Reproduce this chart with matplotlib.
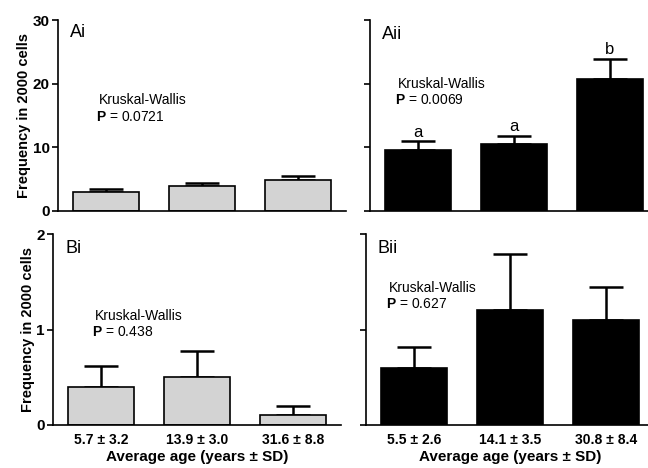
import matplotlib
matplotlib.use("Agg")
import matplotlib.pyplot as plt

plt.rcParams["font.family"] = ["Liberation Sans", "DejaVu Sans"]
plt.rcParams["mathtext.fontset"] = "custom"
plt.rcParams["mathtext.rm"] = "Liberation Sans"
plt.rcParams["mathtext.bf"] = "Liberation Sans:bold"

# ── Data ────────────────────────────────────────────────────────────────────
ages_i = ["5.7 ± 3.2", "13.9 ± 3.0", "31.6 ± 8.8"]
ages_ii = ["5.5 ± 2.6", "14.1 ± 3.5", "30.8 ± 8.4"]

ai_mean = [3.0, 3.9, 4.9]
ai_err = [0.5, 0.5, 0.6]
aii_mean = [9.6, 10.5, 20.7]
aii_err = [1.4, 1.3, 3.2]
aii_letters = ["a", "a", "b"]

bi_mean = [0.40, 0.50, 0.10]
bi_err = [0.22, 0.27, 0.10]
bii_mean = [0.60, 1.20, 1.10]
bii_err = [0.22, 0.59, 0.35]

p_values = {"Ai": "0.0721", "Aii": "0.0069", "Bi": "0.438", "Bii": "0.627"}

GRAY = "#d3d3d3"
W, H = 648, 468


def px_axes(fig, x0, x1, y0, y1):
    return fig.add_axes([x0 / W, 1 - y1 / H, (x1 - x0) / W, (y1 - y0) / H])


def draw_panel(ax, means, errs, color, ylim, yticks, show_ylabels):
    x = range(len(means))
    ax.bar(x, means, width=0.68, color=color, edgecolor="black", linewidth=1.2, zorder=2)
    ax.errorbar(x, means, yerr=[[0] * len(errs), errs], fmt="none", ecolor="black",
                elinewidth=1.8, capsize=12, capthick=1.8, zorder=1)
    ax.set_xlim(-0.5, 2.5)
    ax.set_ylim(*ylim)
    ax.set_yticks(yticks)
    for s in ["top", "right"]:
        ax.spines[s].set_visible(False)
    for s in ["left", "bottom"]:
        ax.spines[s].set_linewidth(1.2)
    ax.tick_params(axis="y", direction="out", length=4, width=1.2, labelsize=11, pad=2)
    ax.tick_params(axis="x", length=0)
    ax.set_xticks(list(x))
    ax.set_xticklabels([])
    if show_ylabels:
        for t in ax.get_yticklabels():
            t.set_fontweight("bold")
        ax.set_ylabel("Frequency in 2000 cells", fontsize=10.5, fontweight="bold", labelpad=1)
    else:
        ax.set_yticklabels([])


def kruskal(ax, x, y1, y2, p):
    ax.text(x, y1, "Kruskal-Wallis", fontsize=10, ha="left", va="center")
    ax.text(x - 0.03, y2, r"$\mathbf{P}$ = " + p, fontsize=10, ha="left", va="center")


fig = plt.figure(figsize=(W / 100, H / 100), dpi=100)

ax_ai = px_axes(fig, 58, 346, 20, 211)
ax_aii = px_axes(fig, 370, 658, 20, 211)
ax_bi = px_axes(fig, 53, 341, 234, 425)
ax_bii = px_axes(fig, 366, 654, 234, 425)

draw_panel(ax_ai, ai_mean, ai_err, GRAY, (0, 30), [0, 10, 20, 30], True)
draw_panel(ax_aii, aii_mean, aii_err, "black", (0, 30), [0, 10, 20, 30], False)
draw_panel(ax_bi, bi_mean, bi_err, GRAY, (0, 2), [0, 1, 2], True)
draw_panel(ax_bii, bii_mean, bii_err, "black", (0, 2), [0, 1, 2], False)

# panel labels
ax_ai.text(-0.38, 28.0, "Ai", fontsize=13, va="center", ha="left")
ax_aii.text(-0.38, 27.8, "Aii", fontsize=13, va="center", ha="left")
ax_bi.text(-0.37, 1.85, "Bi", fontsize=13, va="center", ha="left")
ax_bii.text(-0.38, 1.85, "Bii", fontsize=13, va="center", ha="left")

kruskal(ax_ai, -0.07, 17.4, 14.8, p_values["Ai"])
kruskal(ax_aii, -0.21, 19.9, 17.4, p_values["Aii"])
kruskal(ax_bi, -0.06, 1.14, 0.97, p_values["Bi"])
kruskal(ax_bii, -0.26, 1.43, 1.27, p_values["Bii"])

for i, letter in enumerate(aii_letters):
    ax_aii.text(i, aii_mean[i] + aii_err[i] + 1.4, letter, fontsize=12,
                ha="center", va="center")

for ax, labels in [(ax_bi, ages_i), (ax_bii, ages_ii)]:
    ax.set_xticklabels(labels, fontsize=10, fontweight="bold")
    ax.tick_params(axis="x", pad=6)
    ax.set_xlabel("Average age (years ± SD)", fontsize=11, fontweight="bold", labelpad=2)

fig.savefig("out.png", dpi=100)
